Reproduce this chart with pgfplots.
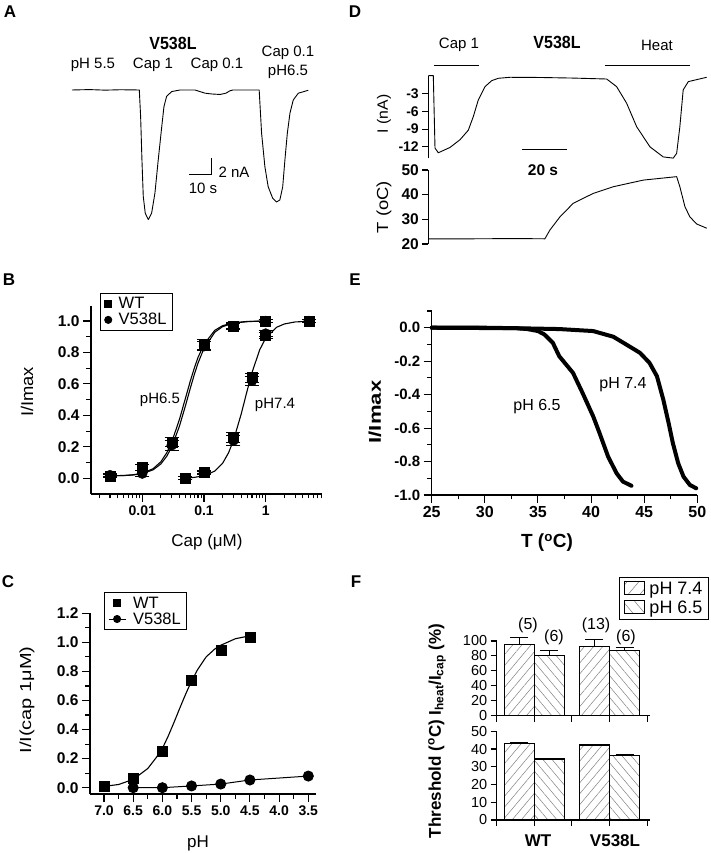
\documentclass[border=0pt]{standalone}
\usepackage{fontspec}
\setmainfont{Liberation Sans}
\usepackage{graphicx}
\usepackage{pgfplots}
\pgfplotsset{compat=1.18}
\usetikzlibrary{patterns.meta}
\newcommand\fs[1]{\fontsize{#1}{#1}\selectfont}
\pgfplotsset{
 panel/.style={scale only axis, anchor=south west, clip=false,
   axis x line*=bottom, axis y line*=left,
   axis line style={line width=1.1pt,-},
   every tick/.style={black,line width=1.1pt},
   tick align=outside, major tick length=8pt, minor tick length=4.5pt,
   /pgf/number format/assume math mode=true,
   tick label style={font=\fs{14}\bfseries}},
 trace/.style={black, line width=0.9pt, no markers, line join=round},
 onedig/.style={/pgf/number format/fixed, /pgf/number format/fixed zerofill, /pgf/number format/precision=1},
 ebar/.style={error bars/.cd, y dir=both, y explicit, error mark=|,
   error bar style={line width=0.8pt, black}, error mark options={black, mark size=7pt, line width=0.8pt}},
 fbar/.style={error bars/.cd, y dir=plus, y explicit, error mark=|,
   error bar style={line width=1pt, black}, error mark options={black, mark size=9pt, line width=1pt}},
 mylegend/.style={legend style={at={#1}, anchor=north west, draw=black, line width=1pt,
    font=\fs{16.5}, inner xsep=4pt, inner ysep=2pt, row sep=-1pt,
    /tikz/every odd column/.append style={column sep=5pt}},
    legend image post style={mark size=3.5pt}, legend cell align=left}
}
\begin{document}
\begin{tikzpicture}
\useasboundingbox (0,0) rectangle (710pt,853pt);
% panel letters
\node[font=\fs{17}\bfseries] at (10pt,841pt) {A};
\node[font=\fs{17}\bfseries] at (355pt,841pt) {D};
\node[font=\fs{17}\bfseries] at (9pt,573pt) {B};
\node[font=\fs{17}\bfseries] at (355pt,573pt) {E};
\node[font=\fs{17}\bfseries] at (8pt,271pt) {C};
\node[font=\fs{17}\bfseries] at (356pt,271pt) {F};

% ---------------- Panel A ----------------
\begin{axis}[at={(72pt,627pt)}, anchor=south west, scale only axis, width=236pt, height=140pt,
  xmin=0, xmax=107.3, ymin=-17, ymax=0.5, hide axis, clip=false]
\addplot[trace] coordinates {(0,0)(8,0.05)(15,-0.02)(22,0.03)(30.6,0)(31.2,-3.3)(31.8,-8.75)(32.4,-13.3)(33.3,-15.4)(34.7,-16.2)(36.2,-15.4)(37.7,-12.9)(39.2,-8.75)(40.8,-4.6)(41.8,-2.1)(43,-0.8)(45.3,-0.2)(49.1,0)(55.9,0)(58.2,-0.2)(60.5,-0.4)(63.6,-0.5)(67.3,-0.56)(70,-0.4)(71.8,-0.1)(73.2,0)(85.1,0)(86.2,-5.4)(87.7,-9.6)(89.2,-12.1)(91.2,-13.5)(93.0,-14.0)(94.5,-13.75)(95.8,-12.1)(96.8,-8.75)(97.9,-5.4)(99.1,-2.9)(100.6,-1.25)(102.9,-0.4)(107.4,-0.04)};
\addplot[black, line width=0.9pt] coordinates {(53.2,-10.5)(63.2,-10.5)(63.2,-8.5)};
\end{axis}
\node[font=\fs{16}\bfseries] at (173pt,810pt) {\scalebox{1}[1.1]{V538L}};
\node[font=\fs{15}] at (93pt,788pt) {pH 5.5};
\node[font=\fs{15}] at (153pt,788pt) {Cap 1};
\node[font=\fs{15}] at (217pt,788pt) {Cap 0.1};
\node[font=\fs{15}] at (288pt,800pt) {Cap 0.1};
\node[font=\fs{15}] at (288pt,781pt) {pH6.5};
\node[font=\fs{15}, anchor=west] at (215pt,681pt) {2 nA};
\node[font=\fs{15}] at (203pt,665pt) {10 s};

% ---------------- Panel D ----------------
\begin{axis}[panel, at={(428.3pt,694.7pt)}, width=281.7pt, height=82.6pt,
  xmin=0, xmax=127.1, ymin=-13.93, ymax=0, axis x line=none,
  major tick length=6pt,
  ytick={-12,-9,-6,-3}, tick label style={font=\fs{14}\bfseries}]
\addplot[trace] coordinates {(0,0)(2.26,0)(3.02,-12.2)(4.51,-13.0)(9.79,-12.1)(14.3,-10.8)(18.04,-9.2)(20.3,-6.9)(22.55,-4.1)(25.57,-1.85)(28.6,-0.84)(31.57,-0.44)(36.85,-0.27)(50,-0.3)(65,-0.4)(80.47,-0.56)(84.98,-1.85)(89.49,-4.65)(94.0,-8.6)(100.0,-12.0)(106.0,-13.7)(110.5,-13.9)(112.05,-13.1)(113.5,-8.6)(115.0,-2.4)(117.3,-1.0)(125.6,-0.27)};
\addplot[black, line width=0.9pt] coordinates {(2.6,1.8)(22.9,1.8)};
\addplot[black, line width=0.9pt] coordinates {(79.7,1.8)(118.1,1.8)};
\addplot[black, line width=0.9pt] coordinates {(42.4,-12.5)(62.4,-12.5)};
\end{axis}
\begin{axis}[panel, at={(428.3pt,609pt)}, width=281.7pt, height=74pt,
  xmin=0, xmax=127.1, ymin=20, ymax=50, axis x line=none, ytick={20,30,40,50},
  major tick length=6pt, tick label style={font=\fs{15.5}\bfseries}]
\addplot[trace] coordinates {(0,22.1)(20,22.1)(40,22.2)(52.6,22.1)(54.9,25.7)(59.4,31)(65.4,36.5)(74.4,40.5)(83.4,43.2)(97.0,45.9)(104.5,46.6)(112.05,47.3)(113.5,43.2)(115.8,35.1)(118.0,31)(121.1,28.1)(125.6,26.4)};
\end{axis}
\node[font=\fs{15}] at (459pt,808pt) {Cap 1};
\node[font=\fs{16}\bfseries] at (557pt,811pt) {\scalebox{1}[1.1]{V538L}};
\node[font=\fs{15}] at (657pt,808pt) {Heat};
\node[font=\fs{15.5}\bfseries] at (543pt,683pt) {20 s};
\node[font=\fs{15}, rotate=90] at (384pt,739pt) {\scalebox{1.05}[1]{I (nA)}};
\node[font=\fs{16}, rotate=90] at (384pt,646pt) {\scalebox{1.15}[1]{T (oC)}};

% ---------------- Panel B ----------------
\begin{axis}[panel, at={(91pt,359pt)}, width=231pt, height=188pt,
  xmode=log, xmin=0.001476, xmax=8.177, ymin=-0.0998, ymax=1.0954,
  ytick={0,0.2,0.4,0.6,0.8,1.0}, minor ytick={0.1,0.3,0.5,0.7,0.9},
  yticklabel style={onedig, font=\fs{15.5}\bfseries},
  xtick={0.01,0.1,1}, xticklabels={0.01,0.1,1},
  minor xtick={0.002,0.003,0.004,0.005,0.006,0.007,0.008,0.009,0.02,0.03,0.04,0.05,0.06,0.07,0.08,0.09,0.2,0.3,0.4,0.5,0.6,0.7,0.8,0.9,2,3,4,5,6,7,8},
  mylegend={(0.04,1.069)}]
\addplot[black, line width=1.1pt, forget plot] coordinates {(0.003,0.016)(0.005,0.018)(0.007,0.022)(0.01,0.032)(0.015,0.061)(0.02,0.105)(0.025,0.163)(0.03,0.230)(0.04,0.374)(0.05,0.508)(0.06,0.618)(0.07,0.703)(0.08,0.768)(0.1,0.852)(0.15,0.941)(0.2,0.970)(0.3,0.989)(0.5,0.997)(1,1.0)};
\addplot[black, line width=1.1pt, forget plot] coordinates {(0.003,0.016)(0.005,0.017)(0.007,0.021)(0.01,0.029)(0.015,0.054)(0.02,0.091)(0.025,0.141)(0.03,0.199)(0.04,0.331)(0.05,0.460)(0.06,0.572)(0.07,0.662)(0.08,0.732)(0.1,0.826)(0.15,0.929)(0.2,0.964)(0.3,0.986)(0.5,0.996)(1,1.0)};
\addplot[black, line width=1.1pt, forget plot] coordinates {(0.05,0.0025)(0.07,0.006)(0.1,0.016)(0.15,0.046)(0.2,0.095)(0.25,0.162)(0.3,0.24)(0.4,0.407)(0.5,0.556)(0.6,0.672)(0.8,0.817)(1,0.891)(1.5,0.960)(2,0.981)(3,0.994)(5,0.998)};
\addplot[only marks, mark=square*, mark size=5pt, black, ebar]
  coordinates {(0.003,0.015)+-(0,0.01) (0.01,0.07)+-(0,0.02) (0.03,0.23)+-(0,0.03) (0.1,0.85)+-(0,0.03) (0.3,0.97)+-(0,0.02) (1,1.0)+-(0,0.01)
  (0.05,0.0)+-(0,0.01) (0.1,0.04)+-(0,0.01) (0.3,0.26)+-(0,0.03) (0.6,0.64)+-(0,0.03) (1,0.91)+-(0,0.02) (5,1.0)+-(0,0.01)};
\addlegendentry{WT}
\addplot[only marks, mark=*, mark size=5pt, black, ebar]
  coordinates {(0.003,0.02)+-(0,0.01) (0.01,0.03)+-(0,0.02) (0.03,0.21)+-(0,0.03) (0.1,0.84)+-(0,0.03) (0.3,0.965)+-(0,0.02) (1,1.0)+-(0,0.01)
  (0.05,0.0)+-(0,0.01) (0.1,0.035)+-(0,0.01) (0.3,0.24)+-(0,0.03) (0.6,0.62)+-(0,0.03) (1,0.92)+-(0,0.02) (5,1.0)+-(0,0.01)};
\addlegendentry{V538L}
\end{axis}
\node[font=\fs{15}] at (160pt,453pt) {pH6.5};
\node[font=\fs{15}] at (275pt,448pt) {pH7.4};
\node[font=\fs{17}, rotate=90] at (27pt,461pt) {\scalebox{1.08}[1]{I/Imax}};
\node[font=\fs{17}] at (207pt,311pt) {Cap (μM)};

% ---------------- Panel E ----------------
\begin{axis}[panel, at={(431.7pt,358pt)}, width=265.6pt, height=184pt,
  xmin=25, xmax=50, ymin=-1, ymax=0.1,
  xtick={25,30,35,40,45,50}, minor x tick num=1,
  ytick={-1,-0.8,-0.6,-0.4,-0.2,0}, minor ytick={-0.9,-0.7,-0.5,-0.3,-0.1,0.1},
  yticklabel style={onedig, font=\fs{15}\bfseries}, xticklabel style={font=\fs{16}\bfseries}]
\addplot[black, line width=4pt, line join=round, line cap=round] coordinates {(25,0)(30,0)(33,-0.003)(34,-0.008)(35,-0.02)(35.6,-0.04)(36.4,-0.09)(37,-0.17)(38.3,-0.27)(39.2,-0.39)(40.2,-0.53)(40.8,-0.63)(41.6,-0.77)(42.4,-0.87)(43,-0.92)(43.8,-0.945)};
\addplot[black, line width=4pt, line join=round, line cap=round] coordinates {(25,0)(33,-0.003)(37,-0.008)(40.2,-0.02)(42.1,-0.054)(43.3,-0.10)(44.6,-0.15)(45.5,-0.21)(46.2,-0.29)(46.8,-0.43)(47.3,-0.57)(47.7,-0.69)(48.2,-0.81)(48.7,-0.89)(49.3,-0.94)(49.9,-0.96)};
\end{axis}
\node[font=\fs{16}] at (537pt,446pt) {pH 6.5};
\node[font=\fs{16}] at (623pt,468pt) {pH 7.4};
\node[font=\fs{17}\bfseries, rotate=90] at (375pt,441pt) {\scalebox{1.3}[1]{I/Imax}};
\node[font=\fs{19}\bfseries] at (547pt,310pt) {T (\textsuperscript{o}C)};

% ---------------- Panel C ----------------
\begin{axis}[panel, at={(90pt,59pt)}, width=226pt, height=180.7pt,
  x dir=reverse, xmin=3.368, xmax=7.24, ymin=-0.0434, ymax=1.2,
  xtick={3.5,4,4.5,5,5.5,6,6.5,7}, minor xtick={3.75,4.25,4.75,5.25,5.75,6.25,6.75},
  ytick={0,0.2,0.4,0.6,0.8,1.0,1.2}, minor ytick={0.1,0.3,0.5,0.7,0.9,1.1},
  xticklabel style={onedig}, yticklabel style={onedig, font=\fs{15.5}\bfseries},
  mylegend={(0.06,1.117)}]
\addplot[black, line width=1.1pt, forget plot] coordinates {(7.0,0.009)(6.75,0.022)(6.5,0.057)(6.25,0.132)(6.1,0.21)(6.0,0.27)(5.9,0.355)(5.8,0.45)(5.7,0.549)(5.6,0.645)(5.5,0.734)(5.4,0.81)(5.25,0.90)(5.1,0.955)(5.0,0.98)(4.75,1.025)(4.5,1.045)};
\addplot[only marks, mark=square*, mark size=5pt, black] coordinates {(7.0,0.011)(6.5,0.064)(6.0,0.252)(5.5,0.741)(5.0,0.945)(4.5,1.035)};
\addlegendentry{WT}
\addplot[black, line width=1pt, mark=*, mark size=5pt] coordinates {(6.5,0.0)(6.0,0.0)(5.5,0.012)(5.0,0.025)(4.5,0.053)(3.5,0.08)};
\addlegendentry{V538L}
\end{axis}
\node[font=\fs{16}, rotate=90] at (27pt,153pt) {\scalebox{1.25}[1]{I/I(cap 1μM)}};
\node[font=\fs{17}] at (198pt,10pt) {pH};

% ---------------- Panel F ----------------
\begin{axis}[panel, at={(496.7pt,137.3pt)}, width=153.3pt, height=74.7pt,
  xmin=0, xmax=4.077, ymin=0, ymax=100, ytick={0,20,40,60,80,100},
  xtick={1,3}, minor xtick={0,2,4}, xticklabels={}, major tick length=6pt, minor tick length=6pt,
  tick label style={font=\fs{14.5}},
  legend style={at={(0.799,1.861)}, anchor=north west, draw=black, line width=1pt,
    font=\fs{18}, inner xsep=4pt, inner ysep=2.5pt, row sep=1pt,
    /tikz/every odd column/.append style={column sep=3pt}},
  legend cell align=left]
\addplot[ybar, bar width=0.8, bar shift=0pt, draw=black, line width=1.1pt,
  pattern={Lines[angle=50,distance=7pt,line width=0.5pt]}, pattern color=gray,
  legend image code/.code={\draw[pattern={Lines[angle=50,distance=9pt,line width=0.5pt]}, pattern color=gray, draw=black, line width=0.8pt] (0pt,-6pt) rectangle (20pt,7pt);},
  fbar]
  coordinates {(0.6,95)+-(0,10) (2.6,93)+-(0,9)};
\addlegendentry{pH 7.4}
\addplot[ybar, bar width=0.8, bar shift=0pt, draw=black, line width=1.1pt,
  pattern={Lines[angle=-50,distance=7pt,line width=0.5pt]}, pattern color=gray,
  legend image code/.code={\draw[pattern={Lines[angle=-50,distance=9pt,line width=0.5pt]}, pattern color=gray, draw=black, line width=0.8pt] (0pt,-6pt) rectangle (20pt,7pt);},
  fbar]
  coordinates {(1.4,80)+-(0,7) (3.4,87)+-(0,4)};
\addlegendentry{pH 6.5}
\end{axis}
\begin{axis}[panel, at={(496.7pt,33pt)}, width=153.3pt, height=88.7pt,
  xmin=0, xmax=4.077, ymin=0, ymax=50, ytick={0,10,20,30,40,50},
  xtick={1,3}, minor xtick={0,2,4}, xticklabels={}, major tick length=6pt, minor tick length=6pt,
  tick label style={font=\fs{14.5}}]
\addplot[ybar, bar width=0.8, bar shift=0pt, draw=black, line width=1.1pt,
  pattern={Lines[angle=50,distance=7pt,line width=0.5pt]}, pattern color=gray, fbar]
  coordinates {(0.6,43.2)+-(0,0.3) (2.6,42.3)+-(0,0.4)};
\addplot[ybar, bar width=0.8, bar shift=0pt, draw=black, line width=1.1pt,
  pattern={Lines[angle=-50,distance=7pt,line width=0.5pt]}, pattern color=gray, fbar]
  coordinates {(1.4,34.4)+-(0,0.4) (3.4,36.5)+-(0,0.3)};
\end{axis}
\node[font=\fs{16}] at (528pt,228pt) {(5)};
\node[font=\fs{16}] at (554pt,216pt) {(6)};
\node[font=\fs{16}] at (596pt,228pt) {(13)};
\node[font=\fs{16}] at (626pt,216pt) {(6)};
\node[font=\fs{17}\bfseries] at (538pt,12pt) {WT};
\node[font=\fs{17}\bfseries] at (615pt,12pt) {V538L};
\node[font=\fs{17}\bfseries, rotate=90] at (437pt,122pt) {Threshold (\textsuperscript{o}C) I\textsubscript{heat}/I\textsubscript{cap} (\%)};
\end{tikzpicture}
\end{document}
